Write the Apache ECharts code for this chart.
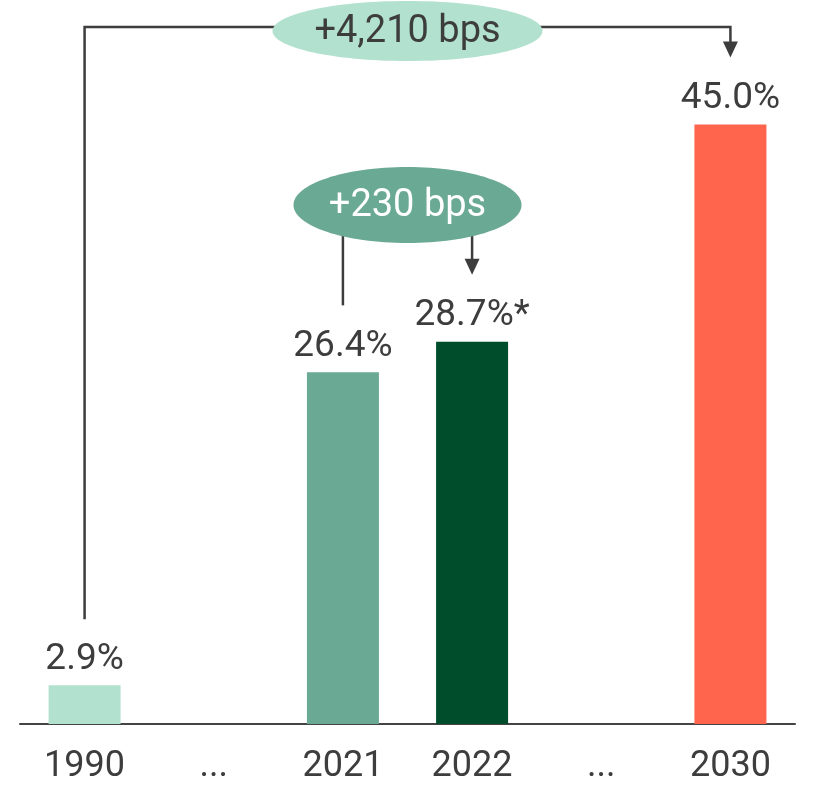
<!DOCTYPE html>
<html>
<head>
<meta charset="utf-8">
<script src="https://cdn.jsdelivr.net/npm/echarts@6/dist/echarts.min.js"></script>
<style>
  html, body { margin: 0; padding: 0; background: #fff; }
  #chart { width: 815px; height: 785px; }
</style>
</head>
<body>
<div id="chart"></div>
<script>
// Share by year (percent); gaps ("...") carry no bar
const categories = ['1990', '...', '2021', '2022', '...', '2030'];
const values = [2.9, null, 26.4, 28.7, null, 45.0];
const valueNotes = ['', '', '', '*', '', ''];
const barColors = ['#b2e2cf', null, '#6aa994', '#004d2b', null, '#ff644c'];

// Change callouts: [from index, to index, text]
const callouts = [
  { from: 0, to: 5, text: '+4,210 bps' },
  { from: 2, to: 3, text: '+230 bps' }
];

const FONT = 'Roboto, "Noto Sans", sans-serif';
const TEXT = '#3d3d3d';
const LINE = '#3d3d3d';

const chart = echarts.init(document.getElementById('chart'), null, { renderer: 'canvas' });

chart.setOption({
  animation: false,
  backgroundColor: '#fff',
  grid: { left: 20, right: 20, top: 58, bottom: 61 },
  xAxis: {
    type: 'category',
    data: categories,
    axisLine: { show: true, lineStyle: { color: '#444', width: 2 } },
    axisTick: { show: false },
    axisLabel: { color: TEXT, fontSize: 36, fontFamily: FONT, margin: 25 }
  },
  yAxis: {
    type: 'value', min: 0, max: 50, show: false,
    splitLine: { show: false }
  },
  series: [{
    type: 'bar',
    barWidth: 72,
    data: values.map((v, i) => v == null ? null : {
      value: v,
      itemStyle: { color: barColors[i] }
    }),
    label: {
      show: true,
      position: 'top',
      distance: 7,
      color: TEXT,
      fontSize: 37,
      fontFamily: FONT,
      formatter: p => p.value.toFixed(1) + '%' + valueNotes[p.dataIndex]
    }
  }]
});

// Pixel position of a bar's top centre
const topOf = i => chart.convertToPixel({ seriesIndex: 0 }, [i, values[i]]);

const GAP = 67;           // space between connector end and bar top
const ARROW_W = 15, ARROW_H = 16;
const lineStyle = { stroke: LINE, lineWidth: 2.5, fill: null };

function arrowHead(x, tipY) {
  return {
    type: 'polygon',
    shape: { points: [[x - ARROW_W / 2, tipY - ARROW_H], [x + ARROW_W / 2, tipY - ARROW_H], [x, tipY]] },
    style: { fill: LINE }
  };
}

const els = [];

// Long bracket: 1990 -> 2030
{
  const c = callouts[0];
  const a = topOf(c.from), b = topOf(c.to);
  const yTop = 27;
  const tip = b[1] - GAP;
  els.push({
    type: 'polyline',
    shape: { points: [[a[0], a[1] - GAP + 1], [a[0], yTop], [b[0], yTop], [b[0], tip - ARROW_H + 1]] },
    style: lineStyle
  });
  els.push(arrowHead(b[0], tip));
  const cx = (a[0] + b[0]) / 2;
  els.push({
    type: 'ellipse',
    shape: { cx: cx, cy: 31, rx: 135, ry: 30 },
    style: { fill: '#b2e2cf' }
  });
  els.push({
    type: 'text',
    x: cx, y: 32,
    style: {
      text: c.text, fill: TEXT, font: '38px ' + FONT,
      textAlign: 'center', textVerticalAlign: 'middle'
    }
  });
}

// Short callout: 2021 -> 2022
{
  const c = callouts[1];
  const a = topOf(c.from), b = topOf(c.to);
  const cx = (a[0] + b[0]) / 2, cy = 205;
  const tip = b[1] - GAP;
  els.push({
    type: 'line',
    shape: { x1: a[0], y1: cy, x2: a[0], y2: a[1] - GAP },
    style: lineStyle
  });
  els.push({
    type: 'line',
    shape: { x1: b[0], y1: cy, x2: b[0], y2: tip - ARROW_H + 1 },
    style: lineStyle
  });
  els.push(arrowHead(b[0], tip));
  els.push({
    type: 'ellipse',
    shape: { cx: cx, cy: cy, rx: 114, ry: 38 },
    style: { fill: '#6aa994' }
  });
  els.push({
    type: 'text',
    x: cx, y: cy + 1,
    style: {
      text: c.text, fill: '#ffffff', font: '38px ' + FONT,
      textAlign: 'center', textVerticalAlign: 'middle'
    }
  });
}

chart.setOption({ graphic: { elements: els } });
</script>
</body>
</html>
